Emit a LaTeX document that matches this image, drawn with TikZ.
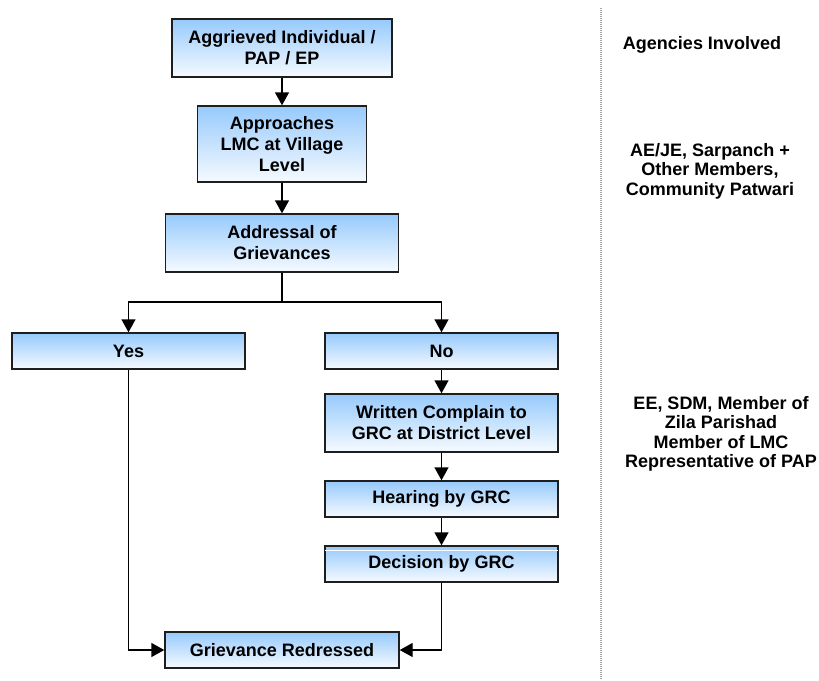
\documentclass[tikz,border=0pt]{standalone}
\usepackage{fontspec}
\setmainfont{Liberation Sans}
\usetikzlibrary{arrows.meta}
\definecolor{boxtop}{RGB}{150,202,252}
\definecolor{boxbot}{RGB}{246,250,255}
\definecolor{edge}{RGB}{30,30,30}
\tikzset{
  pbox/.style={draw=edge, line width=1.4pt, top color=boxtop, bottom color=boxbot,
    rectangle, align=center, inner sep=0pt,
    font=\bfseries\fontsize{18}{21}\selectfont},
  agency/.style={align=center, inner sep=0pt, font=\bfseries\fontsize{18}{19.5}\selectfont},
  conn/.style={line width=1.4pt, black},
  arr/.style={conn, -{Triangle[length=13pt,width=14pt]}},
}
\begin{document}
\begin{tikzpicture}[x=1pt,y=1pt]
\useasboundingbox (0,0) rectangle (819,-680);
% dotted separator
\draw[gray!70, line width=1.2pt, dash pattern=on 1pt off 1pt] (601,-8) -- (601,-680);

\node[pbox, minimum width=220pt, minimum height=58pt] (n1) at (282,-48) {Aggrieved Individual /\\PAP / EP};
\node[pbox, minimum width=169pt, minimum height=76pt] (n2) at (282,-144) {Approaches\\LMC at Village\\Level};
\node[pbox, minimum width=233pt, minimum height=58pt] (n3) at (282,-243) {Addressal of\\Grievances};
\node[pbox, minimum width=233pt, minimum height=36pt] (yes) at (128.5,-351) {Yes};
\node[pbox, minimum width=233pt, minimum height=36pt] (no) at (441.5,-351) {No};
\node[pbox, minimum width=233pt, minimum height=58pt] (wc) at (441.5,-423) {Written Complain to\\GRC at District Level};
\node[pbox, minimum width=233pt, minimum height=36pt] (hear) at (441.5,-499) {Hearing by GRC};
\node[pbox, minimum width=233pt, minimum height=36pt] (dec) at (441.5,-564) {Decision by GRC};
\node[pbox, minimum width=234pt, minimum height=36pt] (gr) at (282,-650) {Grievance Redressed};
\draw[white, line width=1pt] ([xshift=1pt,yshift=-5pt]dec.north west) -- ([xshift=-1pt,yshift=-5pt]dec.north east);

\coordinate (split) at (282,-302);
\coordinate (yesturn) at (128.5,-650);
\coordinate (decturn) at (441.5,-650);

\draw[arr] (n1) -- (n2);
\draw[arr] (n2) -- (n3);
\draw[conn] (n3.south) -- (split);
\draw[arr] (split) -| (yes.north);
\draw[arr] (split) -| (no.north);
\draw[arr] (no) -- (wc);
\draw[arr] (wc) -- (hear);
\draw[arr] (hear) -- (dec);
\draw[arr] (yes.south) -- (yesturn) -- (gr.west);
\draw[arr] (dec.south) -- (decturn) -- (gr.east);

\node[agency] (ag) at (702,-45) {Agencies Involved};
\node[agency] (ag1) at (710,-171) {AE/JE, Sarpanch +\\Other Members,\\Community Patwari};
\node[agency] (ag2) at (721,-434) {EE, SDM, Member of\\Zila Parishad\\Member of LMC\\Representative of PAP};
\end{tikzpicture}
\end{document}
